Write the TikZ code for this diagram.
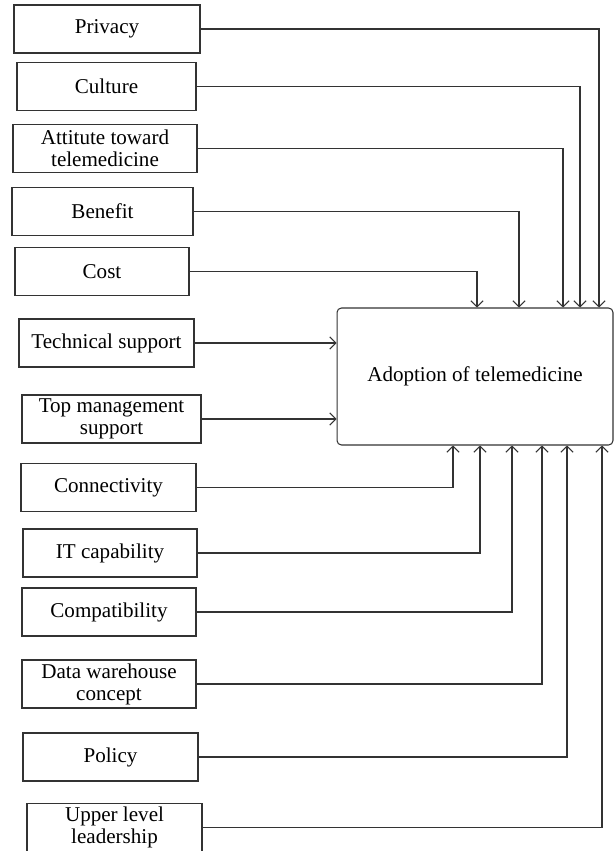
\documentclass[tikz,border=0pt]{standalone}
\usepackage{fontspec}
\setmainfont{Liberation Serif}
\usetikzlibrary{arrows.meta, positioning}

\begin{document}
\begin{tikzpicture}[
    x=0.02cm, y=-0.02cm,
    factor/.style={rectangle, draw=black!80, line width=0.6pt, minimum height=0.96cm, inner sep=0pt, align=center, font=\fontsize{12}{12.5}\selectfont},
    target/.style={rectangle, draw=black!80, line width=0.6pt, rounded corners=2.5pt, minimum width=5.52cm, minimum height=2.74cm, font=\fontsize{12}{14}\selectfont},
    link/.style={->, draw=black!80, line width=0.6pt},
    >={Straight Barb[length=3.4pt, width=7pt]}
  ]
  \useasboundingbox (0,0) rectangle (614,851);

  % central construct
  \node[target] (adopt) at (475,376.5) {Adoption of telemedicine};

  % factors on the left
  \node[factor, minimum width=3.72cm] (privacy) at (107,29) {Privacy};
  \node[factor, minimum width=3.58cm] (culture) at (106.5,86.5) {Culture};
  \node[factor, minimum width=3.68cm] (attitude) at (105,148.5) {Attitute toward\\telemedicine};
  \node[factor, minimum width=3.62cm] (benefit) at (102.5,211.5) {Benefit};
  \node[factor, minimum width=3.48cm] (cost) at (102,271.5) {Cost};
  \node[factor, minimum width=3.50cm] (techsup) at (106.5,343) {Technical support};
  \node[factor, minimum width=3.58cm] (topmgmt) at (111.5,419) {Top management\\support};
  \node[factor, minimum width=3.50cm] (connect) at (108.5,487.5) {Connectivity};
  \node[factor, minimum width=3.48cm] (itcap) at (110,553) {IT capability};
  \node[factor, minimum width=3.48cm] (compat) at (109,612) {Compatibility};
  \node[factor, minimum width=3.48cm] (datawh) at (109,684) {Data warehouse\\concept};
  \node[factor, minimum width=3.50cm] (policy) at (110.5,757) {Policy};
  \node[factor, minimum width=3.50cm] (upper) at (114.5,827.5) {Upper level\\leadership};

  % arrows into the top
  \draw[link] (privacy.east) -| (599,0 |- adopt.north);
  \draw[link] (culture.east) -| (580,0 |- adopt.north);
  \draw[link] (attitude.east) -| (563,0 |- adopt.north);
  \draw[link] (benefit.east) -| (519,0 |- adopt.north);
  \draw[link] (cost.east) -| (477,0 |- adopt.north);

  % arrows into the left side
  \draw[link] (techsup.east) -- (techsup.east -| adopt.west);
  \draw[link] (topmgmt.east) -- (topmgmt.east -| adopt.west);

  % arrows into the bottom
  \draw[link] (connect.east) -| (453,0 |- adopt.south);
  \draw[link] (itcap.east) -| (480,0 |- adopt.south);
  \draw[link] (compat.east) -| (512,0 |- adopt.south);
  \draw[link] (datawh.east) -| (542,0 |- adopt.south);
  \draw[link] (policy.east) -| (567,0 |- adopt.south);
  \draw[link] (upper.east) -| (602,0 |- adopt.south);
\end{tikzpicture}
\end{document}
